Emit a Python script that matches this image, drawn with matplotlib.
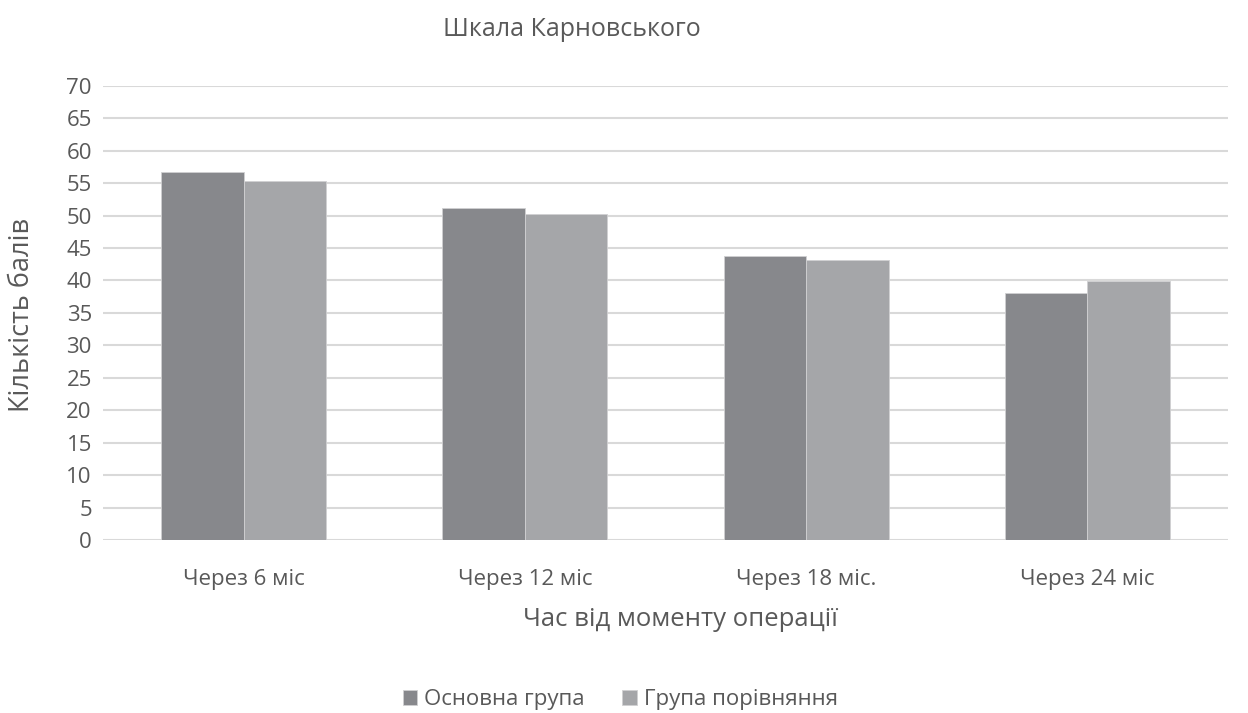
import numpy as np
import matplotlib.pyplot as plt

categories = ["Через 6 міс", "Через 12 міс", "Через 18 міс.", "Через 24 міс"]
main_group = [56.7, 51.1, 43.8, 38.1]
compare_group = [55.3, 50.2, 43.1, 39.9]
series_names = ["Основна група", "Група порівняння"]
yticks = list(range(0, 75, 5))

plt.rcParams['font.family'] = ['Open Sans', 'DejaVu Sans']
txt = '#595959'
W, H = 1248, 713

fig = plt.figure(figsize=(12.48, 7.13), dpi=100)
ax = fig.add_axes([0.0825, 0.2426, 0.9015, 0.6372])

x = np.arange(len(categories))
w = 0.293
ax.bar(x - w / 2, main_group, w, color='#87888c', edgecolor='#d0d0d2', linewidth=0.6,
       label=series_names[0], zorder=3)
ax.bar(x + w / 2, compare_group, w, color='#a5a6a9', edgecolor='#d0d0d2', linewidth=0.6,
       label=series_names[1], zorder=3)

ax.set_xlim(-0.5, len(categories) - 0.5)
ax.set_ylim(0, 70)
ax.set_yticks(yticks)
ax.grid(axis='y', color='#d9d9d9', linewidth=1.5, zorder=0)
for s in ax.spines.values():
    s.set_visible(False)
ax.tick_params(axis='both', length=0, labelsize=16, colors=txt, pad=8)
ax.tick_params(axis='x', pad=21)
ax.set_xticks(x)
ax.set_xticklabels(categories)

fig.text(22 / W, 1 - 315 / H, "Кількість балів", rotation=90, ha='center', va='center',
         fontsize=19.5, color=txt)
fig.text(680 / W, 1 - 619 / H, "Час від моменту операції", ha='center', va='center',
         fontsize=18.5, color=txt)
fig.text(572 / W, 1 - 29 / H, "Шкала Карновського", ha='center', va='center',
         fontsize=18, color=txt)

fig.legend(loc='center', bbox_to_anchor=(0.497, 1 - 700 / H), ncol=2, frameon=False,
           fontsize=16, labelcolor=txt, handlelength=0.65, handleheight=0.65,
           handletextpad=0.3, columnspacing=1.7)

fig.savefig("out.png", dpi=100)
